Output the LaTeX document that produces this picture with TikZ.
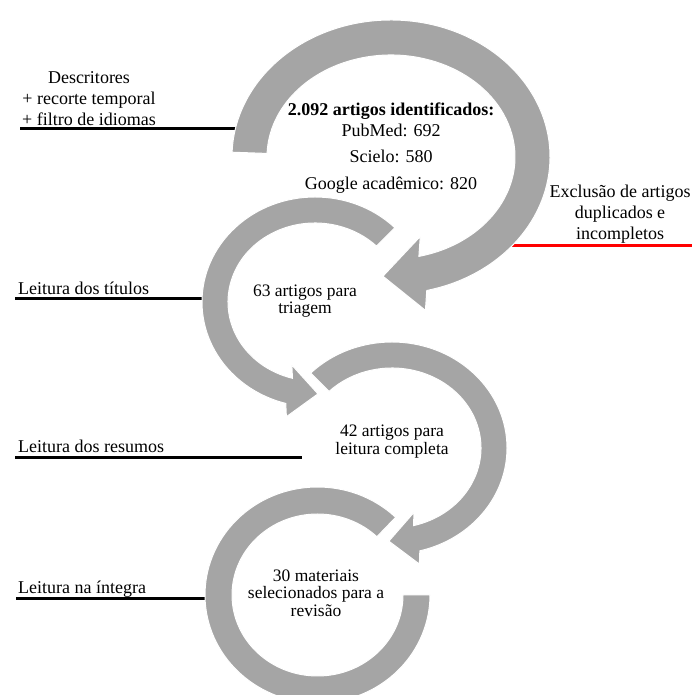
\documentclass[tikz,border=0pt]{standalone}
\usepackage{fontspec}
\setmainfont{Liberation Serif}
\usepackage{tikz}
\usetikzlibrary{calc}
\definecolor{bandgray}{HTML}{A5A5A5}
\definecolor{exclred}{HTML}{FF0000}
\tikzset{
band/.style={ % grey ring segments
fill=bandgray,
draw=white,
line width=1pt},
uline/.style={line width=3pt}, % rule under each side label
outtext/.style={font=\fontsize{18}{21}\selectfont, align=center, inner sep=0pt},
intext/.style={font=\fontsize{17.5}{17.5}\selectfont, align=center, inner sep=0pt},
phase/.style={font=\fontsize{18}{21}\selectfont, anchor=base west, inner sep=0pt}}

\begin{document}
\begin{tikzpicture}[x=1pt,y=1pt]
\useasboundingbox (0,0) rectangle (692,695);
% centres of the rings and ends of the shafts
\coordinate (c1) at (391,538);
\coordinate (c2) at (315,393);
\coordinate (c3) at (392,247);
\coordinate (c4) at (317.5,100);
\coordinate (m1) at ($(c1)+(-77:141.5 and 119.5)$);
\coordinate (m2) at ($(c2)+(255:100 and 92)$);
\coordinate (m3) at ($(c3)+(-76:102 and 93)$);

% rules under the side labels
\coordinate (d0) at (20,566);
\coordinate (d1) at (236,566);
\coordinate (e0) at (510,449);
\coordinate (e1) at (692,449);
\coordinate (t0) at (15,396);
\coordinate (t1) at (205,396);
\coordinate (r0) at (15,237);
\coordinate (r1) at (302,237);
\coordinate (i0) at (16,96);
\coordinate (i1) at (206,96);
\draw[uline] (d0) -- (d1);
\draw[uline, exclred] (e0) -- (e1);
\draw[uline] (t0) -- (t1);
\draw[uline] (r0) -- (r1);
\draw[uline] (i0) -- (i1);

% ring 1
\path[band] ($(c1)+(178:159 and 137)$)
  arc[start angle=178, end angle=-77, x radius=159, y radius=137]
  -- ($(m1)+(274:37)$) -- ($(m1)+(184:40)$) -- ($(m1)+(94:37)$)
  -- ($(c1)+(-77:124 and 102)$)
  arc[start angle=-77, end angle=178, x radius=124, y radius=102] -- cycle;
% ring 2
\path[band] ($(c2)+(45:113 and 105)$)
  arc[start angle=45, end angle=255, x radius=113, y radius=105]
  -- ($(m2)+(264:26)$) -- ($(m2)+(-6:29)$) -- ($(m2)+(84:26)$)
  -- ($(c2)+(255:87 and 79)$)
  arc[start angle=255, end angle=45, x radius=87, y radius=79] -- cycle;
% ring 3
\path[band] ($(c3)+(135:115 and 106)$)
  arc[start angle=135, end angle=-76, x radius=115, y radius=106]
  -- ($(m3)+(276:26)$) -- ($(m3)+(186:28)$) -- ($(m3)+(96:26)$)
  -- ($(c3)+(-76:89 and 80)$)
  arc[start angle=-76, end angle=135, x radius=89, y radius=80] -- cycle;
% ring 4
\path[band] ($(c4)+(46:112.5 and 108)$)
  arc[start angle=46, end angle=360, x radius=112.5, y radius=108]
  -- ($(c4)+(0:85.5 and 81)$)
  arc[start angle=360, end angle=46, x radius=85.5, y radius=81] -- cycle;

\node[outtext] (desc) at (89,596) {Descritores\\+ recorte temporal\\+ filtro de idiomas};
\node[outtext] (ident) at (391,547) {\textbf{2.092 artigos identificados:}\\PubMed: 692\\[5pt]Scielo: 580\\[6pt]Google acadêmico: 820};
\node[outtext] (excl) at (620,481) {Exclusão de artigos\\duplicados e\\incompletos};
\node[intext] (tri) at (305,394) {63 artigos para\\triagem};
\node[intext] (comp) at (392,253.5) {42 artigos para\\leitura completa};
\node[intext] (sel) at (316,102) {30 materiais\\selecionados para a\\revisão};
\node[phase] (tit) at (18,400) {Leitura dos títulos};
\node[phase] (res) at (18,242) {Leitura dos resumos};
\node[phase] (int) at (18,101) {Leitura na íntegra};
\end{tikzpicture}
\end{document}
